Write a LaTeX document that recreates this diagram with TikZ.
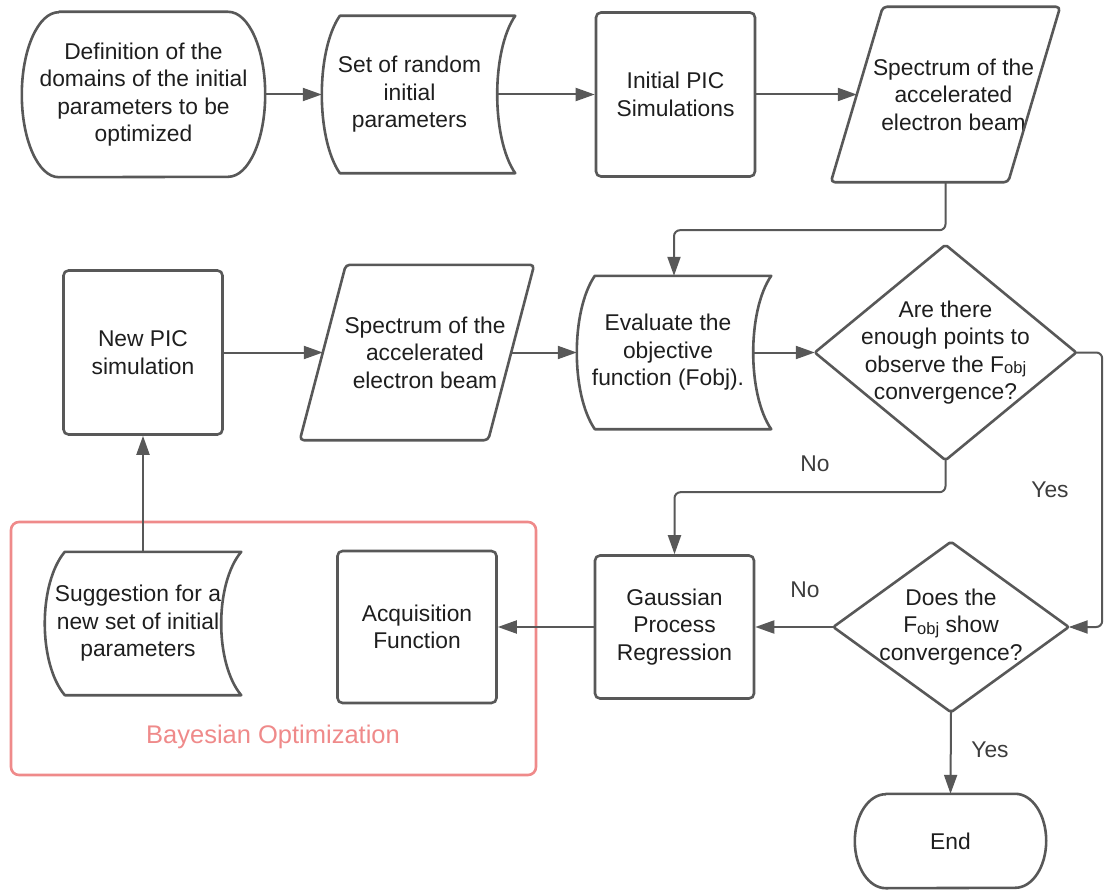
\documentclass[tikz,border=0pt]{standalone}
\usepackage{fontspec}
\setmainfont{Liberation Sans}
\usetikzlibrary{arrows.meta,calc}
\definecolor{ln}{HTML}{585858}
\definecolor{tx}{HTML}{1E1E1E}
\definecolor{lb}{HTML}{3C3C3C}
\definecolor{bo}{HTML}{EF8A8A}
\newcommand\fobj{F\raisebox{-1.5pt}{\fontsize{16.5}{16.5}\selectfont obj}}
\newcommand\shft[1]{\hspace*{#1}}
\begin{document}
\begin{tikzpicture}[x=1pt,y=-1pt,
  every node/.style={font=\fontsize{22.8}{27.5}\selectfont, text=tx, align=center, inner sep=0pt},
  proc/.style={draw=ln, line width=2.6pt, rounded corners=5pt},
  outline/.style={draw=ln, line width=2.6pt, line join=round},
  conn/.style={draw=ln, line width=2pt, rounded corners=6pt, -{Triangle[length=19pt,width=13pt]}},
  lbl/.style={text=lb}]
\useasboundingbox (0,0) rectangle (1104,891);

% Bayesian optimization group
\node[draw=bo, line width=2.6pt, rounded corners=8pt, minimum width=525pt, minimum height=253pt] (bay) at (273.5,648.5) {};
\node[text=bo, font=\fontsize{25.5}{30}\selectfont] (bayl) at (273,737) {Bayesian Optimization};

% Row 1
\node[minimum width=243pt, minimum height=165pt] (t1) at (143.5,94.5) {Definition of the\\domains of the initial\\parameters to be\\optimized};
\draw[outline] ($(t1.north west)+(37,0)$) -- ($(t1.north east)+(-37,0)$) arc[start angle=-90,end angle=90,x radius=37,y radius=82.5] -- ($(t1.south west)+(37,0)$) arc[start angle=90,end angle=270,x radius=37,y radius=82.5] -- cycle;

\node[minimum width=175pt, minimum height=157pt] (s1) at (409.5,94.5) {Set of random\\initial\\parameters};
\draw[outline] ($(s1.north west)+(18,0)$) -- ($(s1.north east)+(18,0)$) .. controls ($(s1.north east)+(-6,35)$) and ($(s1.south east)+(-6,-35)$) .. ($(s1.south east)+(18,0)$) -- ($(s1.south west)+(18,0)$) .. controls ($(s1.south west)+(-6,-35)$) and ($(s1.north west)+(-6,35)$) .. cycle;

\node[proc, minimum width=159pt, minimum height=164pt] (r1) at (675.5,94.5) {Initial PIC\\Simulations};

\node[minimum width=173pt, minimum height=175pt] (p1) at (945.5,94.5) {\shft{16pt}Spectrum of the\\\shft{16pt}accelerated\\\shft{16pt}electron beam};
\draw[outline, rounded corners=4pt] ($(p1.north west)+(26,0)$) -- ($(p1.north east)+(26,0)$) -- ($(p1.south east)+(-26,0)$) -- ($(p1.south west)+(-26,0)$) -- cycle;

% Row 2
\node[proc, minimum width=159pt, minimum height=164pt] (n1) at (143,352.5) {New PIC\\simulation};

\node[minimum width=188pt, minimum height=175pt] (p2) at (417,352.5) {\shft{16pt}Spectrum of the\\\shft{16pt}accelerated\\\shft{16pt}electron beam};
\draw[outline, rounded corners=4pt] ($(p2.north west)+(23,0)$) -- ($(p2.north east)+(23,0)$) -- ($(p2.south east)+(-23,0)$) -- ($(p2.south west)+(-23,0)$) -- cycle;

\node[minimum width=176pt, minimum height=153pt] (e1) at (665,352.5) {\shft{6pt}Evaluate the\\\shft{6pt}objective\\\shft{6pt}function (Fobj).};
\draw[outline] ($(e1.north west)+(18,0)$) -- ($(e1.north east)+(18,0)$) .. controls ($(e1.north east)+(-6,35)$) and ($(e1.south east)+(-6,-35)$) .. ($(e1.south east)+(18,0)$) -- ($(e1.south west)+(18,0)$) .. controls ($(e1.south west)+(-6,-35)$) and ($(e1.north west)+(-6,35)$) .. cycle;

\node[minimum width=261pt, minimum height=215pt] (d1) at (945.5,352.5) {Are there\\enough points to\\observe the \fobj\\convergence?};
\draw[outline, rounded corners=2pt] (d1.north) -- (d1.east) -- (d1.south) -- (d1.west) -- cycle;

% Row 3
\node[minimum width=174pt, minimum height=143pt] (s2) at (133,623.5) {\shft{10pt}Suggestion for a\\\shft{10pt}new set of initial\\\shft{10pt}parameters};
\draw[outline] ($(s2.north west)+(20,0)$) -- ($(s2.north east)+(20,0)$) .. controls ($(s2.north east)+(-6.7,32)$) and ($(s2.south east)+(-6.7,-32)$) .. ($(s2.south east)+(20,0)$) -- ($(s2.south west)+(20,0)$) .. controls ($(s2.south west)+(-6.7,-32)$) and ($(s2.north west)+(-6.7,32)$) .. cycle;

\node[proc, minimum width=159pt, minimum height=152pt] (a1) at (417,627) {Acquisition\\Function};

\node[proc, minimum width=159pt, minimum height=143pt] (g1) at (674.5,627) {Gaussian\\Process\\Regression};

\node[minimum width=235pt, minimum height=170pt] (d2) at (951,627) {Does the\\\fobj{} show\\convergence?};
\draw[outline, rounded corners=2pt] (d2.north) -- (d2.east) -- (d2.south) -- (d2.west) -- cycle;

\node[minimum width=191pt, minimum height=94pt] (t2) at (950.5,841) {End};
\draw[outline] ($(t2.north west)+(31,0)$) -- ($(t2.north east)+(-31,0)$) arc[start angle=-90,end angle=90,x radius=31,y radius=47] -- ($(t2.south west)+(31,0)$) arc[start angle=90,end angle=270,x radius=31,y radius=47] -- cycle;

% Connectors
\draw[conn] (t1.east) -- (s1.west);
\draw[conn] (s1.east) -- (r1.west);
\draw[conn] (r1.east) -- (p1.west);
\draw[conn] (p1.south) -- ++(0,48) -| ($(e1.north)+(9,0)$);
\draw[conn] (n1.east) -- (p2.west);
\draw[conn] (p2.east) -- (e1.west);
\draw[conn] (e1.east) -- (d1.west);
\draw[conn] (d1.south) -- ++(0,32) -| (g1.north);
\draw[conn] (d1.east) -- ++(26,0) |- (d2.east);
\draw[conn] (d2.west) -- (g1.east);
\draw[conn] (d2.south) -- (t2.north);
\draw[conn] (g1.west) -- (a1.east);
\draw[conn] (s2.north -| n1.south) -- (n1.south);

% Labels
\node[lbl] (no1) at (815,464) {No};
\node[lbl] (yes1) at (1050,490) {Yes};
\node[lbl] (no2) at (805,590) {No};
\node[lbl] (yes2) at (990,750) {Yes};
\end{tikzpicture}
\end{document}
